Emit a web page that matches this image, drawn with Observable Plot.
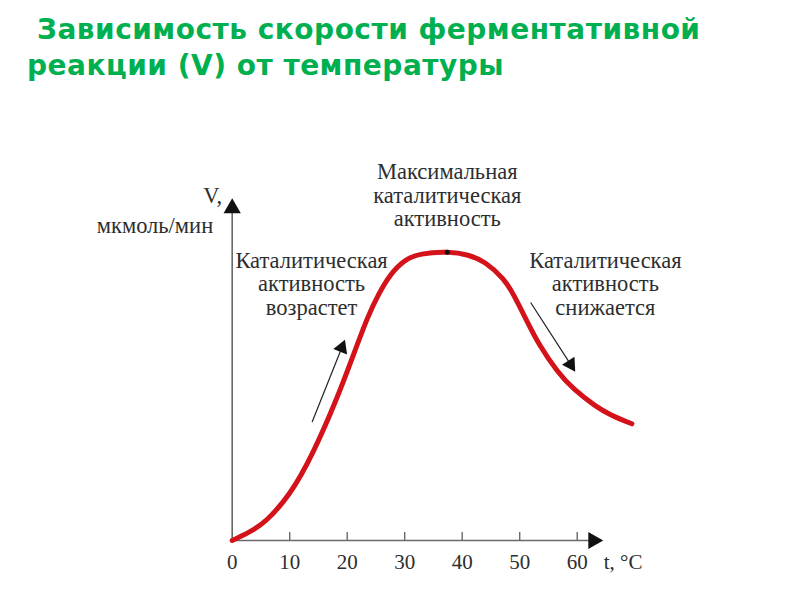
<!DOCTYPE html>
<html><head><meta charset="utf-8">
<script src="https://cdn.jsdelivr.net/npm/d3@7"></script>
<script src="https://cdn.jsdelivr.net/npm/@observablehq/plot@0.6"></script>
<style>
body{margin:0;background:#fff;width:792px;height:600px;overflow:hidden}
#title{position:relative;height:100px;font-family:"DejaVu Sans",sans-serif;font-weight:bold;font-size:28px;letter-spacing:0.5px;color:#00b050}
#title div{position:absolute;white-space:pre;line-height:30px}
</style></head><body>
<div id="title"></div>
<div id="chart"></div>
<script>
// ---- data ----
const titleLines = ["Зависимость скорости ферментативной", "реакции (V) от температуры"];
const temperature = [0, 3, 6, 10, 14, 18, 21, 23.5, 25.5, 27.5, 30, 33, 37.4, 41, 44, 47, 49, 51.3, 53.6, 56.5, 59.5, 63, 66, 69.5];
const rate        = [0, 3.0, 7.2, 16.5, 30.5, 48.5, 64, 77, 85.5, 92, 97, 99.4, 100, 99, 96.3, 91, 85, 76, 67.5, 59, 52.5, 47, 43.5, 40.5];
const xTicks = [0, 10, 20, 30, 40, 50, 60];
const peak = [{t: 37.4, v: 100}];
const notes = [
  {text: "Максимальная\nкаталитическая\nактивность", t: 37.4, v: 131.25},
  {text: "Каталитическая\nактивность\nвозрастет", t: 13.8, v: 100.45},
  {text: "Каталитическая\nактивность\nснижается", t: 64.9, v: 100.45}
];
const trendArrows = [
  {t1: 13.9, v1: 41.1, t2: 19.06, v2: 66.9, angle: 21.8},
  {t1: 51.9, v1: 82.6, t2: 58.85, v2: 61.1, angle: 147.2}
];
const axisEnds = {xEnd: 62.8, yEnd: 115.3};
const yLabel = ["V,", "мкмоль/мин"];
const xLabel = "t, °C";

// ---- title ----
const tEl = document.getElementById("title");
[[37, 15], [27, 51]].forEach(([l, t], i) => {
  const d = document.createElement("div");
  d.style.left = l + "px"; d.style.top = t + "px";
  d.textContent = titleLines[i];
  tEl.appendChild(d);
});

// ---- chart ----
const curve = temperature.map((t, i) => ({t, v: rate[i]}));
const serif = "Liberation Serif, Times New Roman, serif";
const axisColor = "#6a6a6a";
const ink = "#2e2e2e";

const chart = Plot.plot({
  width: 792, height: 500,
  marginLeft: 231.7, marginRight: 157.8, marginTop: 100, marginBottom: 60,
  x: {domain: [0, 70], axis: null},
  y: {domain: [0, 118], axis: null},
  style: {background: "#fff", overflow: "visible"},
  marks: [
    // axes lines
    Plot.ruleY([0], {x1: 0, x2: axisEnds.xEnd, stroke: axisColor, strokeWidth: 1.6}),
    Plot.ruleX([0], {y1: 0, y2: axisEnds.yEnd, stroke: axisColor, strokeWidth: 1.6}),
    Plot.ruleX(xTicks.slice(1), {stroke: axisColor, strokeWidth: 1.4, insetTop: 332}),
    Plot.dot([{x: 0, y: axisEnds.yEnd, a: 0}, {x: axisEnds.xEnd, y: 0, a: 90}],
      {x: "x", y: "y", rotate: "a", symbol: "triangle", r: 6.4, fill: "#111", stroke: "none"}),
    Plot.axisX(xTicks, {tickSize: 0, tickPadding: 14, fontSize: 21, fontFamily: serif, fill: ink}),
    Plot.text([xLabel], {x: 64.6, y: 0, dy: 14, text: d => d, textAnchor: "start", lineAnchor: "top", fontSize: 21, fontFamily: serif, fill: ink}),
    Plot.text([yLabel[0]], {x: 0, y: 122.6, dx: -10, text: d => d, textAnchor: "end", lineAnchor: "top", fontSize: 22.5, fontFamily: serif, fill: ink}),
    Plot.text([yLabel[1]], {x: 0, y: 112.2, dx: -19, text: d => d, textAnchor: "end", lineAnchor: "top", fontSize: 22.5, fontFamily: serif, fill: ink}),
    // curve
    Plot.line(curve, {x: "t", y: "v", curve: "natural", stroke: "#d3121a", strokeWidth: 5}),
    Plot.dot(peak, {x: "t", y: "v", r: 2.5, fill: "#111", stroke: "none"}),
    // trend arrows
    Plot.link(trendArrows, {x1: "t1", y1: "v1", x2: "t2", y2: "v2", stroke: "#222", strokeWidth: 1.2}),
    Plot.dot(trendArrows, {x: "t2", y: "v2", rotate: "angle", symbol: "triangle", r: 5.5, fill: "#111", stroke: "none"}),
    // annotations
    Plot.text(notes, {x: "t", y: "v", text: "text", lineAnchor: "top", lineHeight: 1.05, textAnchor: "middle", fontSize: 22.5, fontFamily: serif, fill: ink})
  ]
});
document.getElementById("chart").appendChild(chart);
</script>
</body></html>
